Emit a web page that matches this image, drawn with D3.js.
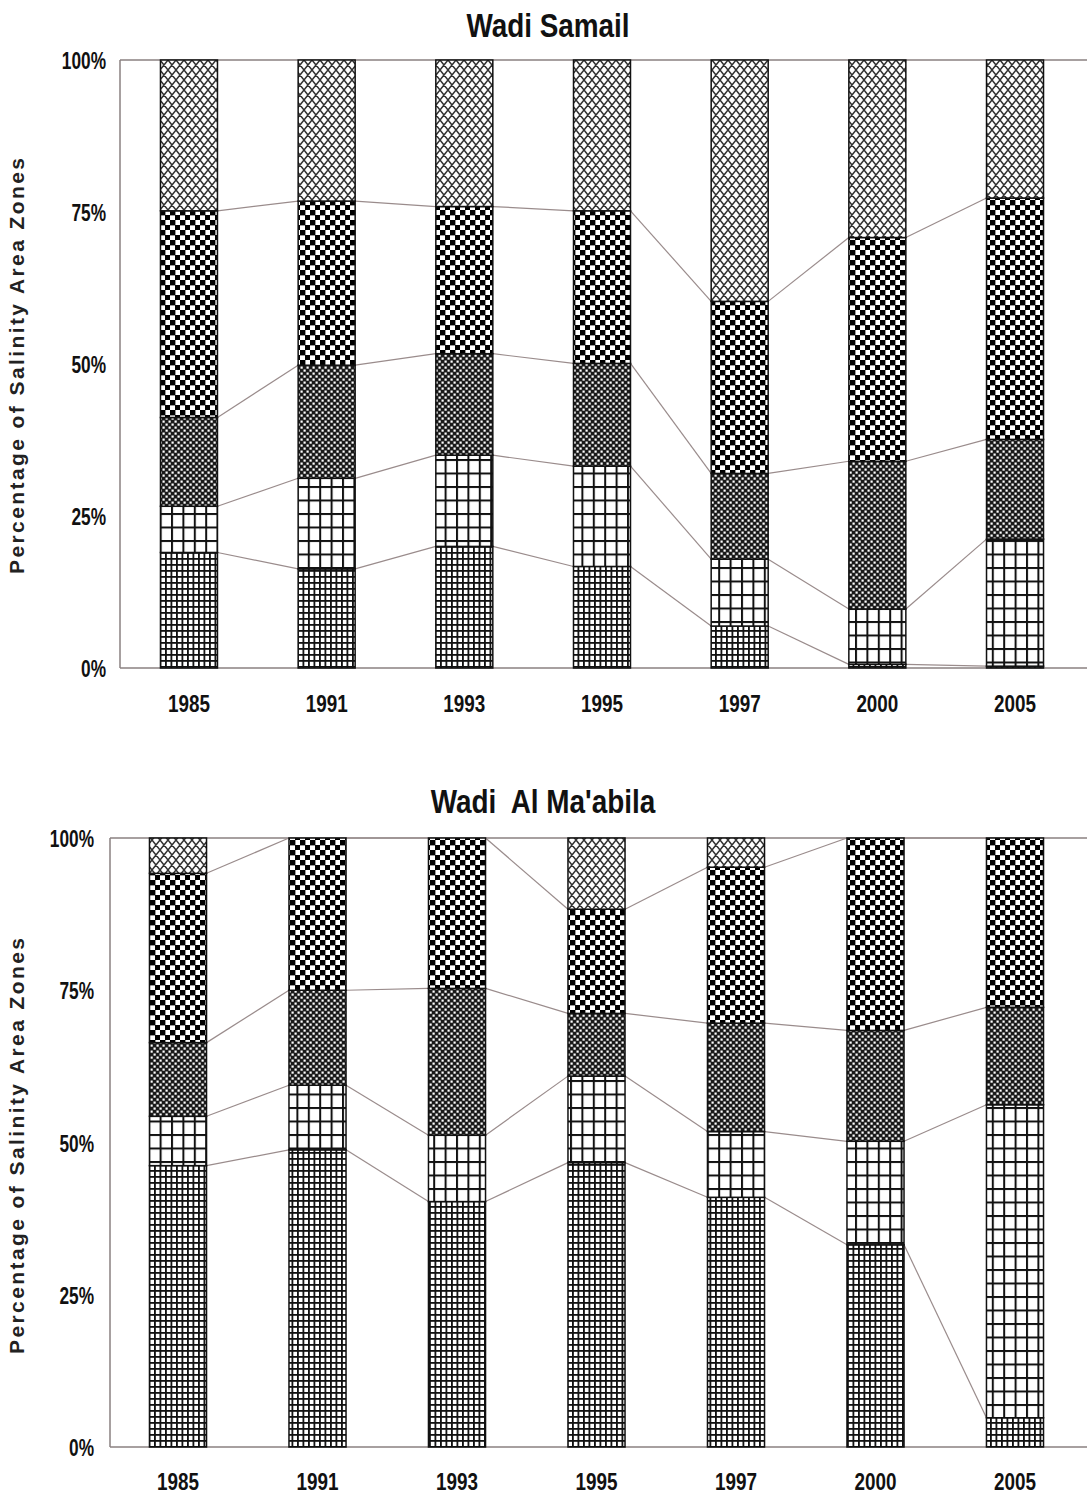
<!DOCTYPE html>
<html>
<head>
<meta charset="utf-8">
<title>Salinity area zones</title>
<script src="https://d3js.org/d3.v7.min.js"></script>
<style>
body { margin: 0; background: #fff; }
.narrow { font-family: "Liberation Sans Narrow", "Arial Narrow", "Liberation Sans", sans-serif; font-weight: bold; fill: #111; }
.ylab { font-family: "Liberation Sans", Arial, sans-serif; font-weight: bold; fill: #222; }
</style>
</head>
<body>
<svg id="chart"></svg>
<script>
// ---- data (percent of area per salinity zone, bottom zone first) ----
var years = ["1985", "1991", "1993", "1995", "1997", "2000", "2005"];
var zones = ["zone1", "zone2", "zone3", "zone4", "zone5"];
var yTicks = [0, 25, 50, 75, 100];

// Wadi Samail
var samailZone1 = [19.0, 16.3, 20.0, 16.7, 6.9, 0.6, 0.3];
var samailZone2 = [7.6, 14.9, 15.0, 16.5, 11.0, 9.1, 20.9];
var samailZone3 = [14.6, 18.6, 16.7, 16.9, 14.1, 24.3, 16.4];
var samailZone4 = [34.0, 27.0, 24.2, 25.1, 28.3, 36.8, 39.7];
var samailZone5 = [24.8, 23.2, 24.1, 24.8, 39.7, 29.2, 22.7];

// Wadi Al Ma'abila
var maabilaZone1 = [46.2, 48.8, 40.3, 46.7, 41.0, 33.2, 4.8];
var maabilaZone2 = [8.1, 10.6, 10.9, 14.2, 10.8, 17.0, 51.4];
var maabilaZone3 = [12.1, 15.6, 24.1, 10.3, 17.8, 18.2, 16.0];
var maabilaZone4 = [27.8, 25.0, 24.7, 17.1, 25.6, 31.6, 27.8];
var maabilaZone5 = [5.8, 0.0, 0.0, 11.7, 4.8, 0.0, 0.0];

var W = 1087, H = 1495;
var svg = d3.select("#chart").attr("width", W).attr("height", H);
var defs = svg.append("defs");

// squeeze bold text to look like a narrow face
function squeeze(sel, f) {
  sel.each(function() {
    var len = this.getComputedTextLength();
    d3.select(this).attr("textLength", len * f).attr("lengthAdjust", "spacingAndGlyphs");
  });
}

// ---- fill patterns ----
function pattern(id, w, h) {
  return defs.append("pattern").attr("id", id)
    .attr("patternUnits", "userSpaceOnUse")
    .attr("width", w).attr("height", h);
}
// zone1: fine grid
var p1 = pattern("p1", 5.5, 6);
p1.append("rect").attr("width", 5.5).attr("height", 6).attr("fill", "#fff");
p1.append("rect").attr("width", 1.8).attr("height", 6).attr("fill", "#111");
p1.append("rect").attr("width", 5.5).attr("height", 1.8).attr("fill", "#111");
// zone2: coarse grid
var p2 = pattern("p2", 11.4, 13.5);
p2.append("rect").attr("width", 11.4).attr("height", 13.5).attr("fill", "#fff");
p2.append("rect").attr("width", 2).attr("height", 13.5).attr("fill", "#111");
p2.append("rect").attr("width", 11.4).attr("height", 2).attr("fill", "#111");
// zone3: fine checker
var p3 = pattern("p3", 6, 6);
p3.append("rect").attr("width", 6).attr("height", 6).attr("fill", "#1a1a1a");
p3.append("rect").attr("x", 0.5).attr("y", 0.5).attr("width", 2.2).attr("height", 2.2).attr("fill", "#fff");
p3.append("rect").attr("x", 3.5).attr("y", 3.5).attr("width", 2.2).attr("height", 2.2).attr("fill", "#fff");
// zone4: coarse checker
var p4 = pattern("p4", 10, 10);
p4.append("rect").attr("width", 10).attr("height", 10).attr("fill", "#fff");
p4.append("rect").attr("width", 5.4).attr("height", 5.4).attr("fill", "#000");
p4.append("rect").attr("x", 5).attr("y", 5).attr("width", 5.4).attr("height", 5.4).attr("fill", "#000");
// zone5: diagonal crosshatch
var p5 = pattern("p5", 8, 10);
p5.append("rect").attr("width", 8).attr("height", 10).attr("fill", "#fff");
p5.append("path").attr("d", "M0,0L8,10M8,0L0,10M-4,5L0,10M4,-5L0,0M12,5L8,10M4,-5L8,0")
  .attr("stroke", "#333").attr("stroke-width", 1.5).attr("fill", "none");

var zoneFill = d3.scaleOrdinal().domain(zones)
  .range(["url(#p1)", "url(#p2)", "url(#p3)", "url(#p4)", "url(#p5)"]);

function drawPanel(cfg) {
  var rows = years.map(function(yr, i) {
    var r = { year: yr };
    zones.forEach(function(z, k) { r[z] = cfg.series[k][i]; });
    return r;
  });
  var stacked = d3.stack().keys(zones)(rows);

  var x = d3.scaleBand().domain(years)
    .range([cfg.left, cfg.right])
    .paddingInner(cfg.padIn).paddingOuter(cfg.padOut);
  var y = d3.scaleLinear().domain([0, 100]).range([cfg.y0, cfg.y100]);

  var g = svg.append("g");

  // title
  g.append("text").attr("class", "narrow")
    .attr("x", cfg.titleX).attr("y", cfg.titleY)
    .attr("text-anchor", "middle").attr("font-size", 34)
    .attr("xml:space", "preserve")
    .text(cfg.title)
    .call(squeeze, 0.82);

  // frame lines
  g.append("line").attr("x1", cfg.left).attr("x2", W).attr("y1", y(100)).attr("y2", y(100))
    .attr("stroke", "#8a8080").attr("stroke-width", 1.5);
  g.append("line").attr("x1", cfg.left).attr("x2", W).attr("y1", y(0)).attr("y2", y(0))
    .attr("stroke", "#8a8080").attr("stroke-width", 1.5);
  g.append("line").attr("x1", cfg.left).attr("x2", cfg.left).attr("y1", y(0)).attr("y2", y(100))
    .attr("stroke", "#8a8080").attr("stroke-width", 1.5);

  // y axis tick labels
  var yAxis = d3.axisLeft(y).tickValues(yTicks).tickSize(0).tickPadding(cfg.tickPad)
    .tickFormat(function(d) { return d + "%"; });
  var ya = g.append("g").attr("transform", "translate(" + cfg.left + ",0)").call(yAxis);
  ya.select(".domain").remove();
  ya.selectAll("text").attr("class", "narrow").attr("font-size", 24).attr("dy", "0.36em")
    .call(squeeze, 0.72);

  // x axis labels
  var xAxis = d3.axisBottom(x).tickSize(0).tickPadding(0);
  var xa = g.append("g").attr("transform", "translate(0," + cfg.yearY + ")").call(xAxis);
  xa.select(".domain").remove();
  xa.selectAll("text").attr("class", "narrow").attr("font-size", 23).attr("dy", 0)
    .call(squeeze, 0.82);

  // y axis title
  g.append("text").attr("class", "ylab")
    .attr("transform", "translate(" + cfg.ylabX + "," + cfg.ylabY + ") rotate(-90)")
    .attr("text-anchor", "middle").attr("font-size", 21)
    .attr("textLength", 416).attr("lengthAdjust", "spacing")
    .text("Percentage of Salinity Area Zones");

  // connector lines between bars at each zone boundary
  var conn = [];
  stacked.slice(0, 4).forEach(function(s) {
    for (var i = 0; i < years.length - 1; i++) {
      conn.push({ a: s[i][1], b: s[i + 1][1], i: i });
    }
  });
  g.append("g").selectAll("line").data(conn).join("line")
    .attr("x1", function(d) { return x(years[d.i]) + x.bandwidth(); })
    .attr("x2", function(d) { return x(years[d.i + 1]); })
    .attr("y1", function(d) { return y(d.a); })
    .attr("y2", function(d) { return y(d.b); })
    .attr("stroke", "#9a8c8c").attr("stroke-width", 1.2);

  // stacked bars
  g.append("g").selectAll("g").data(stacked).join("g")
    .attr("fill", function(d) { return zoneFill(d.key); })
    .selectAll("rect").data(function(d) { return d.filter(function(v) { return v[1] - v[0] > 0; }); })
    .join("rect")
    .attr("x", function(d) { return x(d.data.year); })
    .attr("width", x.bandwidth())
    .attr("y", function(d) { return y(d[1]); })
    .attr("height", function(d) { return y(d[0]) - y(d[1]); })
    .attr("stroke", "#111").attr("stroke-width", 1.5);
}

drawPanel({
  title: "Wadi Samail",
  series: [samailZone1, samailZone2, samailZone3, samailZone4, samailZone5],
  left: 120, right: 1084, padIn: 0.586, padOut: 0.294,
  y0: 668, y100: 60, tickPad: 14,
  titleX: 548, titleY: 37, yearY: 712, ylabX: 24, ylabY: 366
});

drawPanel({
  title: "Wadi  Al Ma'abila",
  series: [maabilaZone1, maabilaZone2, maabilaZone3, maabilaZone4, maabilaZone5],
  left: 110, right: 1083, padIn: 0.591, padOut: 0.283,
  y0: 1447, y100: 838, tickPad: 16,
  titleX: 543, titleY: 813, yearY: 1490, ylabX: 24, ylabY: 1146
});
</script>
</body>
</html>
